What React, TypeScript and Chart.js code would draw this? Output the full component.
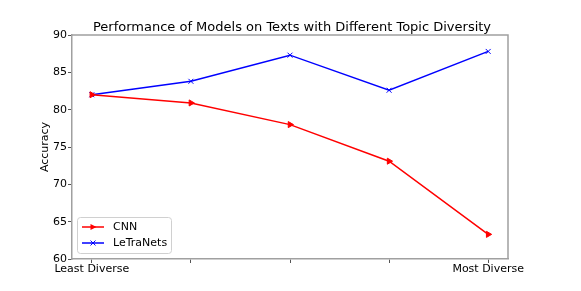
import React, { useEffect, useRef } from "react";
import { Chart, registerables } from "chart.js";

Chart.register(...registerables);

const categories = ["Least Diverse", "", "", "", "Most Diverse"];
const cnnValues = [82.0, 80.9, 78.0, 73.1, 63.3];
const letraValues = [82.0, 83.8, 87.3, 82.6, 87.8];
const yTicks = [60, 65, 70, 75, 80, 85, 90];
const titleText = "Performance of Models on Texts with Different Topic Diversity";

const FONT = "'DejaVu Sans', sans-serif";

const titlePlugin = {
  id: "axesTitle",
  afterDraw(chart: any) {
    const { ctx, chartArea: a } = chart;
    ctx.save();
    ctx.fillStyle = "#000";
    ctx.font = "13px " + FONT;
    ctx.textAlign = "center";
    ctx.textBaseline = "alphabetic";
    ctx.fillText(titleText, (a.left + a.right) / 2 + 2, 31);
    ctx.restore();
  },
};

const insideLegend = {
  id: "insideLegend",
  afterDraw(chart: any) {
    const ctx = chart.ctx;
    const area = chart.chartArea;
    const x = Math.round(area.left + 5);
    const w = 94;
    const h = 36;
    const y = Math.round(area.bottom - 6 - h);
    ctx.save();
    ctx.fillStyle = "rgba(255,255,255,0.8)";
    ctx.strokeStyle = "#d0d0d0";
    ctx.lineWidth = 1;
    ctx.beginPath();
    const r = 3;
    ctx.moveTo(x + r + 0.5, y + 0.5);
    ctx.arcTo(x + w + 0.5, y + 0.5, x + w + 0.5, y + h + 0.5, r);
    ctx.arcTo(x + w + 0.5, y + h + 0.5, x + 0.5, y + h + 0.5, r);
    ctx.arcTo(x + 0.5, y + h + 0.5, x + 0.5, y + 0.5, r);
    ctx.arcTo(x + 0.5, y + 0.5, x + w + 0.5, y + 0.5, r);
    ctx.closePath();
    ctx.fill();
    ctx.stroke();
    chart.data.datasets.forEach((ds: any, i: number) => {
      const cy = y + 10 + i * 16;
      ctx.strokeStyle = ds.borderColor;
      ctx.lineWidth = 1.5;
      ctx.beginPath();
      ctx.moveTo(x + 5, cy);
      ctx.lineTo(x + 27, cy);
      ctx.stroke();
      ctx.save();
      ctx.translate(x + 16, cy);
      ctx.strokeStyle = ds.borderColor;
      ctx.fillStyle = ds.borderColor;
      ctx.lineWidth = 1;
      if (ds.pointStyle === "triangle") {
        ctx.beginPath();
        ctx.moveTo(3.5, 0);
        ctx.lineTo(-2.5, -3);
        ctx.lineTo(-2.5, 3);
        ctx.closePath();
        ctx.fill();
      } else {
        ctx.beginPath();
        ctx.moveTo(-2.5, -2.5);
        ctx.lineTo(2.5, 2.5);
        ctx.moveTo(-2.5, 2.5);
        ctx.lineTo(2.5, -2.5);
        ctx.stroke();
      }
      ctx.restore();
      ctx.fillStyle = "#000";
      ctx.font = "11px " + FONT;
      ctx.textBaseline = "middle";
      ctx.textAlign = "left";
      ctx.fillText(ds.label, x + 36, cy + 0.5);
    });
    ctx.restore();
  },
};

export default function App() {
  const ref = useRef<HTMLCanvasElement>(null);
  useEffect(() => {
    document.body.style.margin = "0";
    const canvas = ref.current!;
    const chart = new Chart(canvas, {
      type: "line",
      data: {
        datasets: [
          {
            label: "CNN",
            data: cnnValues.map((v, i) => ({ x: i, y: v })),
            borderColor: "#ff0000",
            backgroundColor: "#ff0000",
            borderWidth: 1.5,
            pointStyle: "triangle",
            rotation: 90,
            pointRadius: 3.5,
            pointBorderWidth: 1,
            tension: 0,
          },
          {
            label: "LeTraNets",
            data: letraValues.map((v, i) => ({ x: i, y: v })),
            borderColor: "#0000ff",
            backgroundColor: "#0000ff",
            borderWidth: 1.5,
            pointStyle: "crossRot",
            pointRadius: 3.5,
            pointBorderWidth: 1,
            tension: 0,
          },
        ],
      },
      options: {
        animation: false,
        responsive: false,
        devicePixelRatio: 1,
        layout: { padding: { left: 0, right: 73, top: 35, bottom: 0 } },
        plugins: {
          legend: { display: false },
          tooltip: { enabled: false },
          title: { display: false },
        },
        scales: {
          x: {
            type: "linear",
            min: -0.2,
            max: 4.2,
            afterBuildTicks: (axis: any) => {
              axis.ticks = categories.map((_, i) => ({ value: i }));
            },
            afterFit: (axis: any) => {
              axis.height = 32;
            },
            ticks: {
              autoSkip: false,
              maxRotation: 0,
              color: "#000",
              font: { family: FONT, size: 11 },
              padding: 0,
              callback: (v: any) => categories[Math.round(Number(v))] ?? "",
            },
            grid: {
              display: true,
              drawOnChartArea: false,
              drawTicks: true,
              tickLength: 4,
              tickColor: "#555",
            },
            border: { display: true, color: "#a0a0a0", width: 1.5 },
          },
          y: {
            min: 60,
            max: 90,
            afterBuildTicks: (axis: any) => {
              axis.ticks = yTicks.map((v) => ({ value: v }));
            },
            afterFit: (axis: any) => {
              axis.width = 72;
            },
            ticks: {
              color: "#000",
              font: { family: FONT, size: 11 },
              padding: 1,
            },
            grid: {
              display: true,
              drawOnChartArea: false,
              drawTicks: true,
              tickLength: 4,
              tickColor: "#555",
            },
            border: { display: true, color: "#a0a0a0", width: 1.5 },
            title: {
              display: true,
              text: "Accuracy",
              color: "#000",
              font: { family: FONT, size: 11 },
              padding: { top: 39, bottom: 0 },
            },
          },
        },
      },
      plugins: [
        insideLegend,
        titlePlugin,
        {
          id: "rightTopBorder",
          afterDraw(chart: any) {
            const { ctx, chartArea: a } = chart;
            ctx.save();
            ctx.strokeStyle = "#a0a0a0";
            ctx.lineWidth = 1.5;
            ctx.beginPath();
            ctx.moveTo(a.left, a.top);
            ctx.lineTo(a.right, a.top);
            ctx.lineTo(a.right, a.bottom);
            ctx.stroke();
            ctx.restore();
          },
        },
      ],
    } as any);
    return () => chart.destroy();
  }, []);
  return <canvas ref={ref} width={581} height={291} style={{ display: "block" }} />;
}
